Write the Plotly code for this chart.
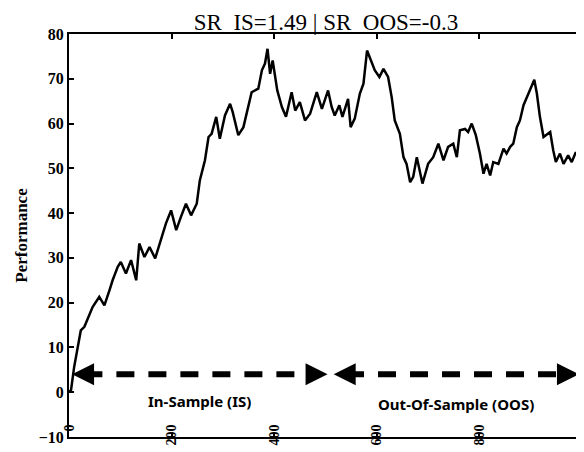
import plotly.graph_objects as go

# Performance path
steps = [0, 4, 10, 23, 30, 40, 46, 59, 69, 79, 85, 95, 101, 111, 121, 131, 137, 147, 157, 168,
         179, 189, 199, 209, 218, 228, 238, 249, 255, 265, 272, 278, 287, 294, 304, 314, 319,
         330, 340, 350, 356, 369, 376, 382, 387, 392, 397, 406, 415, 423, 434, 441, 450, 460,
         470, 483, 493, 505, 512, 518, 527, 533, 544, 549, 557, 567, 574, 581, 590, 596, 605,
         613, 622, 629, 635, 645, 652, 658, 665, 671, 678, 684, 689, 700, 710, 720, 730, 739,
         749, 756, 762, 772, 778, 785, 793, 801, 808, 814, 821, 827, 837, 847, 853, 860, 866,
         873, 879, 886, 893, 899, 904, 907, 912, 918, 925, 932, 938, 944, 949, 957, 964, 973,
         980, 988, 996, 1000]
performance = [0, 0.5, 5.6, 13.8, 14.6, 17.6, 19.0, 21.3, 19.4, 22.8, 25.0, 28.0, 29.1, 26.5,
               29.5, 25.0, 33.2, 30.2, 32.4, 29.9, 33.9, 37.7, 40.6, 36.2, 39.1, 42.1, 39.5,
               42.1, 47.3, 51.8, 57.0, 57.7, 61.5, 56.6, 61.8, 64.4, 62.6, 57.4, 59.2, 63.7,
               67.0, 67.8, 71.9, 73.4, 76.7, 71.1, 74.1, 67.4, 63.7, 61.5, 67.0, 62.9, 64.8,
               60.7, 62.2, 67.0, 63.3, 67.4, 63.7, 61.8, 64.1, 61.5, 65.5, 59.2, 61.1, 66.7,
               68.9, 76.3, 73.7, 71.9, 70.4, 72.2, 70.4, 65.9, 60.7, 57.7, 52.5, 51.0, 46.9,
               48.1, 52.5, 48.8, 46.6, 51.0, 52.5, 55.5, 51.8, 54.8, 55.5, 52.5, 58.5, 58.8,
               58.1, 60.0, 57.4, 53.3, 48.8, 51.0, 48.4, 51.4, 51.0, 54.4, 53.3, 54.8, 55.5,
               59.2, 60.7, 64.1, 65.9, 67.4, 68.9, 69.8, 66.7, 61.5, 57.0, 57.7, 58.1, 54.0,
               51.4, 53.3, 51.0, 52.9, 51.4, 53.6, 52.1, 52.5]

x_ticks = [0, 200, 400, 600, 800, 1000]
y_ticks = [-10, 0, 10, 20, 30, 40, 50, 60, 70, 80]

split = 510
arrow_y = 4.0
segments = [(0, split, "In-Sample (IS)", -2.0), (split, 1000, "Out-Of-Sample (OOS)", -2.7)]

fig = go.Figure()
fig.add_trace(go.Scatter(x=steps, y=performance, mode="lines",
                         line=dict(color="black", width=2.5), showlegend=False))

shapes = []
annotations = []
for x0, x1, label, ly in segments:
    shapes.append(dict(type="line", xref="x", yref="y", x0=x0 + 30, x1=x1 - 30,
                       y0=arrow_y, y1=arrow_y,
                       line=dict(color="black", width=6, dash="18px,14px")))
    annotations.append(dict(x=x0 + 6, y=arrow_y, ax=x0 + 40, ay=arrow_y, xref="x", yref="y",
                            axref="x", ayref="y", showarrow=True, arrowhead=2,
                            arrowsize=1.1, arrowwidth=4, arrowcolor="black", text=""))
    annotations.append(dict(x=x1 - 6, y=arrow_y, ax=x1 - 40, ay=arrow_y, xref="x", yref="y",
                            axref="x", ayref="y", showarrow=True, arrowhead=2,
                            arrowsize=1.1, arrowwidth=4, arrowcolor="black", text=""))
    annotations.append(dict(x=(x0 + x1) / 2, y=ly, xref="x", yref="y", showarrow=False,
                            text=label,
                            font=dict(family="Noto Sans", size=15, color="black",
                                      weight="bold")))

serif_bold = dict(family="Liberation Serif", size=16, color="black", weight="bold")

# page body adds an 8px offset, so margins are reduced accordingly
fig.update_layout(
    width=584, height=452,
    margin=dict(l=61, r=10, t=26, b=23),
    paper_bgcolor="white", plot_bgcolor="white",
    title=dict(text="SR_IS=1.49 | SR_OOS=-0.3", x=0.5445, xanchor="center",
               y=0.969, yanchor="middle", yref="container",
               font=dict(family="Liberation Serif", size=23, color="black")),
    shapes=shapes, annotations=annotations,
    xaxis=dict(range=[0, 1000], tickvals=x_ticks, ticktext=[str(v) for v in x_ticks],
               tickangle=-90, showgrid=False, zeroline=False, showline=True, linewidth=2,
               linecolor="black", mirror="ticks", ticks="inside", ticklen=5, tickwidth=1.5,
               tickcolor="black", ticklabelstandoff=-20, automargin=False,
               tickfont=dict(family="Liberation Serif", size=14, color="black",
                             weight="bold")),
    yaxis=dict(range=[-10, 80], tickvals=y_ticks, showgrid=False, zeroline=False,
               showline=True, linewidth=2, linecolor="black", mirror="ticks",
               ticks="inside", ticklen=5, tickwidth=1.5, tickcolor="black",
               tickfont=serif_bold, automargin=False,
               title=dict(text="Performance", standoff=7,
                          font=dict(family="Liberation Serif", size=17, color="black",
                                    weight="bold"))),
)

fig.write_html("out.html")
